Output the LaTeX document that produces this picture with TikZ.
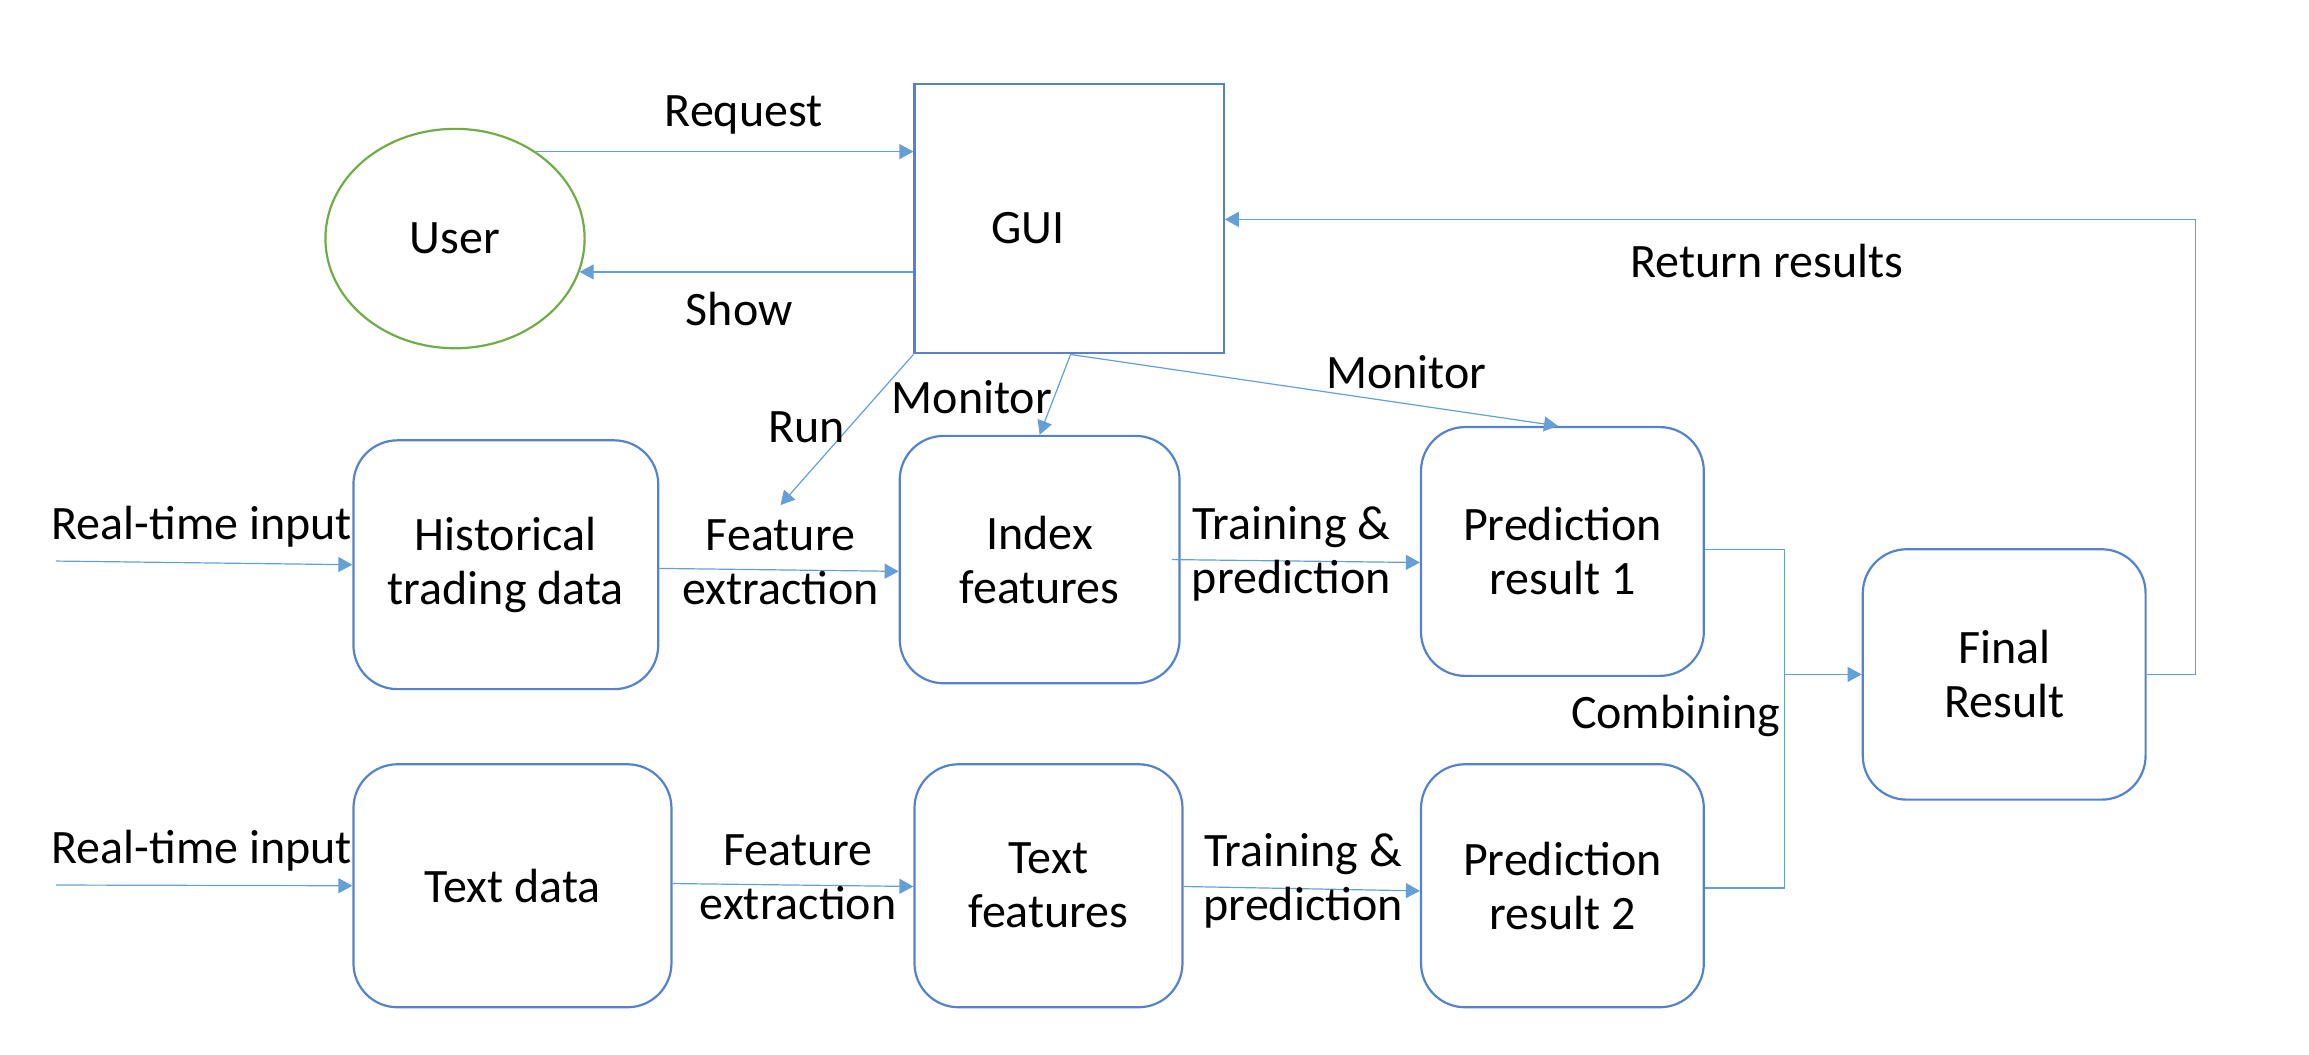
\documentclass[tikz,border=0pt]{standalone}
\usepackage{fontspec}
\setmainfont{Carlito}
\usetikzlibrary{arrows.meta,shapes.geometric}
\definecolor{boxblue}{RGB}{84,130,205}
\definecolor{arrblue}{RGB}{100,160,215}
\definecolor{usergreen}{RGB}{112,173,71}
\begin{document}
\begin{tikzpicture}[x=0.7363pt,y=-0.7363pt,
  every node/.style={font=\fontsize{24}{27}\selectfont},
  rbox/.style={draw=boxblue,line width=1.1pt,rounded corners=22pt,align=center,inner sep=0pt},
  arr/.style={draw=arrblue,line width=0.6pt,-{Triangle[length=7pt,width=7.5pt]}},
  ln/.style={draw=arrblue,line width=0.6pt},
  lbl/.style={align=center,inner sep=0pt}]
\useasboundingbox (0,0) rectangle (1568,715.8);
% nodes
\node[draw=usergreen,line width=1.1pt,ellipse,minimum width=129.6pt,minimum height=109.7pt,inner sep=0pt] (user) at (309,162) {User};
\node[draw=boxblue,line width=1.1pt,minimum width=154.6pt,minimum height=134.7pt,inner sep=0pt,
      label={[xshift=-20.6pt,yshift=-4.6pt]center:GUI}] (gui) at (726,148.5) {};
\node[rbox,minimum width=152.4pt,minimum height=124.4pt] (hist) at (343.5,383.5) {Historical\\trading data};
\node[rbox,minimum width=139.9pt,minimum height=123.7pt] (index) at (706,380) {Index\\features};
\node[rbox,minimum width=141.4pt,minimum height=124.4pt] (pred1) at (1061,374.5) {Prediction\\result 1};
\node[rbox,minimum width=141.4pt,minimum height=125.2pt] (final) at (1361,458) {Final\\Result};
\node[rbox,minimum width=159pt,minimum height=121.5pt] (textd) at (348,601.5) {Text data};
\node[rbox,minimum width=134pt,minimum height=121.5pt] (textf) at (712,601.5) {Text\\features};
\node[rbox,minimum width=141.4pt,minimum height=121.5pt] (pred2) at (1061,601.5) {Prediction\\result 2};
% coordinates
\coordinate (rt1) at (38,381);
\coordinate (rt2) at (38,601);
\coordinate (runend) at (530,343);
\coordinate (mon) at (727,240);
\coordinate (cj) at (1212,458);
% user <-> gui
\draw[arr] (user.47) -- (user.47 -| gui.west);
\draw[arr] (gui.west |- user.-15) -- (user.-15);
% gui outputs
\draw[arr] (gui.south west) -- (runend);
\draw[arr] (gui.south -| mon) -- (index.north);
\draw[arr] (gui.south -| mon) -- ([shift={(-3,0)}]pred1.north);
% inputs
\draw[arr] (rt1) -- (hist.west);
\draw[arr] (rt2) -- (textd.west);
% flows
\draw[arr] ([shift={(0,2.5)}]hist.east) -- ([shift={(0,8)}]index.west);
\draw[arr] ([shift={(-6,0)}]index.east) -- ([shift={(0,7.5)}]pred1.west);
\draw[arr] ([shift={(0,-1.5)}]textd.east) -- ([shift={(0,0.5)}]textf.west);
\draw[arr] ([shift={(0,0.5)}]textf.east) -- ([shift={(0,3.5)}]pred2.west);
% combining
\draw[ln] ([shift={(0,-1.5)}]pred1.east) -| (cj) |- ([shift={(0,1.5)}]pred2.east);
\draw[arr] (cj) -- (final.west);
% return results
\draw[arr] (final.east) -- ++(33,0) |- (gui.east |- 0,149);
% labels
\node[lbl] (lreq) at (505,78) {Request};
\node[lbl] (lshow) at (502,210) {Show};
\node[lbl] (lret) at (1200,177) {Return results};
\node[lbl] (lrun) at (548,290) {Run};
\node[lbl] (lmon1) at (660,270) {Monitor};
\node[lbl] (lmon2) at (955,253) {Monitor};
\node[lbl] (lrt1) at (137,358) {Real-time input};
\node[lbl] (lrt2) at (137,578) {Real-time input};
\node[lbl] (lfe1) at (530,382) {Feature\\extraction};
\node[lbl] (ltp1) at (877,376) {Training \&\\prediction};
\node[lbl] (lfe2) at (542,596) {Feature\\extraction};
\node[lbl] (ltp2) at (885,598) {Training \&\\prediction};
\node[lbl] (lcomb) at (1138,486) {Combining};
\end{tikzpicture}
\end{document}
